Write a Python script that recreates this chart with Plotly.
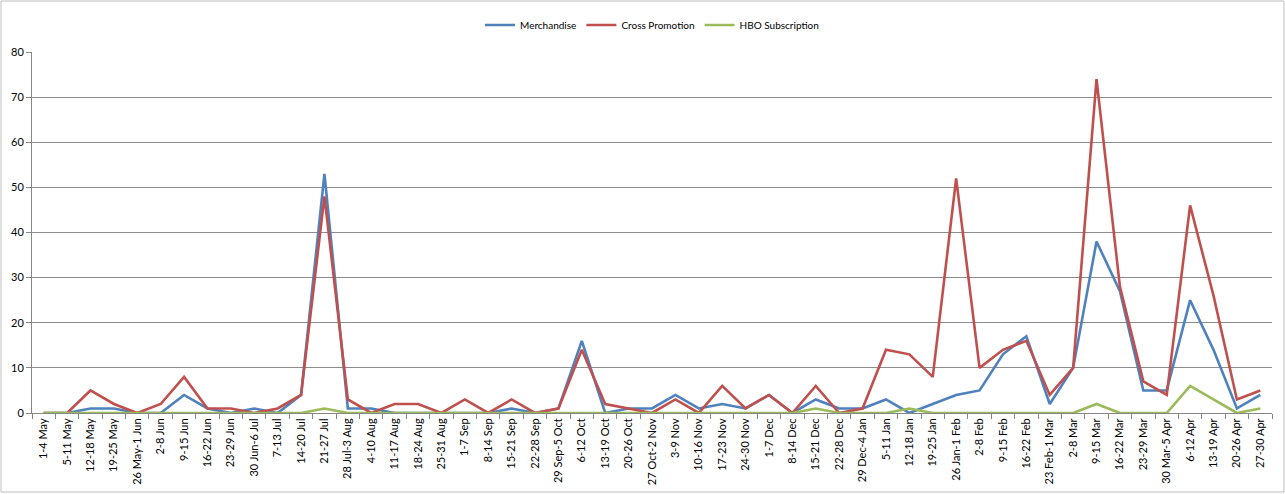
import plotly.graph_objects as go

weeks = [
    "1-4 May", "5-11 May", "12-18 May", "19-25 May", "26 May-1 Jun", "2-8 Jun",
    "9-15 Jun", "16-22 Jun", "23-29 Jun", "30 Jun-6 Jul", "7-13 Jul", "14-20 Jul",
    "21-27 Jul", "28 Jul-3 Aug", "4-10 Aug", "11-17 Aug", "18-24 Aug", "25-31 Aug",
    "1-7 Sep", "8-14 Sep", "15-21 Sep", "22-28 Sep", "29 Sep-5 Oct", "6-12 Oct",
    "13-19 Oct", "20-26 Oct", "27 Oct-2 Nov", "3-9 Nov", "10-16 Nov", "17-23 Nov",
    "24-30 Nov", "1-7 Dec", "8-14 Dec", "15-21 Dec", "22-28 Dec", "29 Dec-4 Jan",
    "5-11 Jan", "12-18 Jan", "19-25 Jan", "26 Jan-1 Feb", "2-8 Feb", "9-15 Feb",
    "16-22 Feb", "23 Feb-1 Mar", "2-8 Mar", "9-15 Mar", "16-22 Mar", "23-29 Mar",
    "30 Mar-5 Apr", "6-12 Apr", "13-19 Apr", "20-26 Apr", "27-30 Apr",
]

merchandise = [
    0, 0, 1, 1, 0, 0, 4, 1, 0, 1, 0, 4,
    53, 1, 1, 0, 0, 0, 0, 0, 1, 0, 1, 16,
    0, 1, 1, 4, 1, 2, 1, 4, 0, 3, 1, 1,
    3, 0, 2, 4, 5, 13, 17, 2, 10, 38, 27, 5,
    5, 25, 14, 1, 4,
]

cross_promotion = [
    0, 0, 5, 2, 0, 2, 8, 1, 1, 0, 1, 4,
    48, 3, 0, 2, 2, 0, 3, 0, 3, 0, 1, 14,
    2, 1, 0, 3, 0, 6, 1, 4, 0, 6, 0, 1,
    14, 13, 8, 52, 10, 14, 16, 4, 10, 74, 28, 7,
    4, 46, 26, 3, 5,
]

hbo_subscription = [
    0, 0, 0, 0, 0, 0, 0, 0, 0, 0, 0, 0,
    1, 0, 0, 0, 0, 0, 0, 0, 0, 0, 0, 0,
    0, 0, 0, 0, 0, 0, 0, 0, 0, 1, 0, 0,
    0, 1, 0, 0, 0, 0, 0, 0, 0, 2, 0, 0,
    0, 6, 3, 0, 1,
]

series = [
    ("Merchandise", merchandise, "#4F81BD"),
    ("Cross Promotion", cross_promotion, "#C0504D"),
    ("HBO Subscription", hbo_subscription, "#9BBB59"),
]

W, H = 1285, 494
ML, MR, MT, MB = 32, 13, 52, 81

fig = go.Figure()
for name, vals, color in series:
    fig.add_trace(go.Scatter(
        x=weeks, y=vals, name=name, mode="lines",
        line=dict(color=color, width=2.6),
    ))

font_family = "Lato, 'Liberation Sans', Arial, sans-serif"

fig.update_layout(
    width=W, height=H,
    margin=dict(l=ML, r=MR, t=MT, b=MB, autoexpand=False),
    paper_bgcolor="white",
    plot_bgcolor="white",
    font=dict(family=font_family, size=11, color="#000000"),
    showlegend=True,
    legend=dict(
        orientation="h",
        x=0.5, xanchor="center",
        y=1.0 + 27 / (H - MT - MB), yanchor="middle",
        font=dict(size=10),
        itemwidth=30,
        tracegroupgap=0,
    ),
    xaxis=dict(
        type="category",
        range=[-0.5, len(weeks) - 0.5],
        tickson="boundaries",
        ticks="outside",
        ticklen=5,
        tickcolor="#868686",
        tickangle=-90,
        tickfont=dict(size=11),
        showgrid=False,
        showline=True,
        linecolor="#868686",
        linewidth=1,
        zeroline=False,
        automargin=False,
    ),
    yaxis=dict(
        range=[0, 80],
        dtick=10,
        ticks="outside",
        ticklen=5,
        tickcolor="#868686",
        tickfont=dict(size=11),
        showgrid=True,
        gridcolor="#8C8C8C",
        gridwidth=1,
        showline=True,
        linecolor="#868686",
        linewidth=1,
        zeroline=False,
        automargin=False,
    ),
)

# light frame around the whole chart area
pw, ph = W - ML - MR, H - MT - MB
fig.add_shape(
    type="rect", xref="paper", yref="paper",
    x0=-(ML - 1) / pw, x1=1 + (MR - 1) / pw,
    y0=-(MB - 2) / ph, y1=1 + (MT - 1) / ph,
    line=dict(color="#BFBFBF", width=1),
    layer="below",
)

fig.write_html("out.html")
